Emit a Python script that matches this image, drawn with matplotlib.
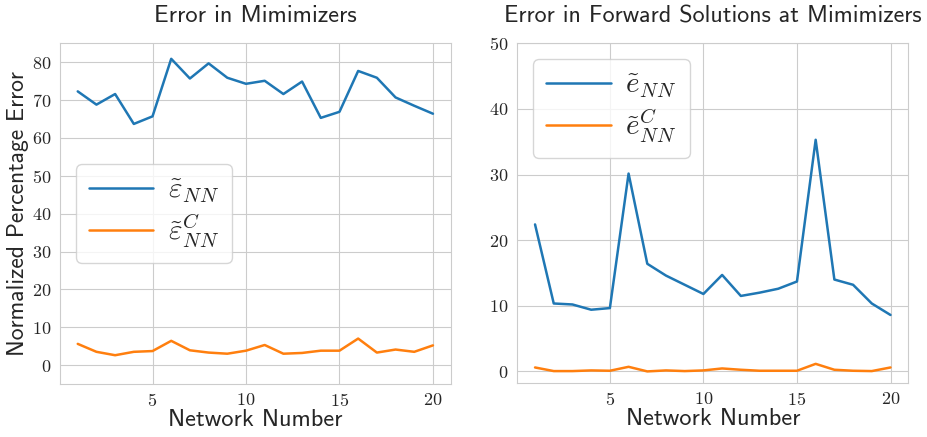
import matplotlib
matplotlib.use("Agg")
import matplotlib.pyplot as plt
import seaborn as sns

sns.set_style("whitegrid")
plt.rcParams["mathtext.fontset"] = "cm"
plt.rcParams["font.family"] = ["cmss10", "DejaVu Sans"]
plt.rcParams["axes.formatter.use_mathtext"] = True

networks = list(range(1, 21))

# error in minimizers
eps_nn = [72.3, 68.8, 71.6, 63.7, 65.7, 80.9, 75.7, 79.7, 75.9, 74.3,
          75.1, 71.6, 74.9, 65.3, 66.9, 77.7, 75.9, 70.7, 68.5, 66.4]
eps_nn_c = [5.6, 3.5, 2.6, 3.5, 3.7, 6.4, 3.9, 3.3, 3.0, 3.8,
            5.3, 3.0, 3.2, 3.8, 3.8, 7.0, 3.3, 4.1, 3.5, 5.2]

# error in forward solutions at minimizers
e_nn = [22.4, 10.35, 10.2, 9.4, 9.65, 30.15, 16.4, 14.6, 13.2, 11.8,
        14.7, 11.5, 12.0, 12.6, 13.7, 35.3, 14.0, 13.2, 10.35, 8.6]
e_nn_c = [0.6, 0.05, 0.05, 0.15, 0.1, 0.7, 0.0, 0.15, 0.05, 0.15,
          0.45, 0.25, 0.1, 0.1, 0.1, 1.15, 0.25, 0.1, 0.05, 0.6]

blue = "#1f77b4"
orange = "#ff7f0e"

fig = plt.figure(figsize=(9.27, 4.37), dpi=100)
ax1 = fig.add_axes([0.0647, 0.1213, 0.4215, 0.7796])
ax2 = fig.add_axes([0.558, 0.1236, 0.4218, 0.7773])

leg_kw = dict(fontsize=21, handlelength=2.2, handletextpad=0.5,
              labelspacing=0.25, borderaxespad=0.55, borderpad=0.45)

ax1.plot(networks, eps_nn, color=blue, lw=1.8, label=r"$\tilde{\varepsilon}_{NN}$")
ax1.plot(networks, eps_nn_c, color=orange, lw=1.8, label=r"$\tilde{\varepsilon}_{NN}^{C}$")
ax1.set_ylim(-5, 85)
ax1.set_yticks(range(0, 81, 10))
ax1.set_title("Error in Mimimizers", fontsize=17.6, pad=15)
ax1.set_ylabel("Normalized Percentage Error", fontsize=17, labelpad=2)
ax1.legend(loc="center left", **leg_kw)

ax2.plot(networks, e_nn, color=blue, lw=1.8, label=r"$\tilde{e}_{NN}$")
ax2.plot(networks, e_nn_c, color=orange, lw=1.8, label=r"$\tilde{e}_{NN}^{C}$")
ax2.set_ylim(top=50)
ax2.set_yticks(range(0, 51, 10))
ax2.set_title("Error in Forward Solutions at Mimimizers", fontsize=17.3, pad=15)
ax2.legend(loc="upper left", **leg_kw)

for ax in (ax1, ax2):
    ax.set_xticks([5, 10, 15, 20])
    ax.set_xlabel("Network Number", fontsize=17.5, labelpad=0)
    ax.tick_params(labelsize=13, labelfontfamily="cmr10", pad=2)
    ax.tick_params(axis="y", pad=3)

fig.savefig("out.png", dpi=100)
